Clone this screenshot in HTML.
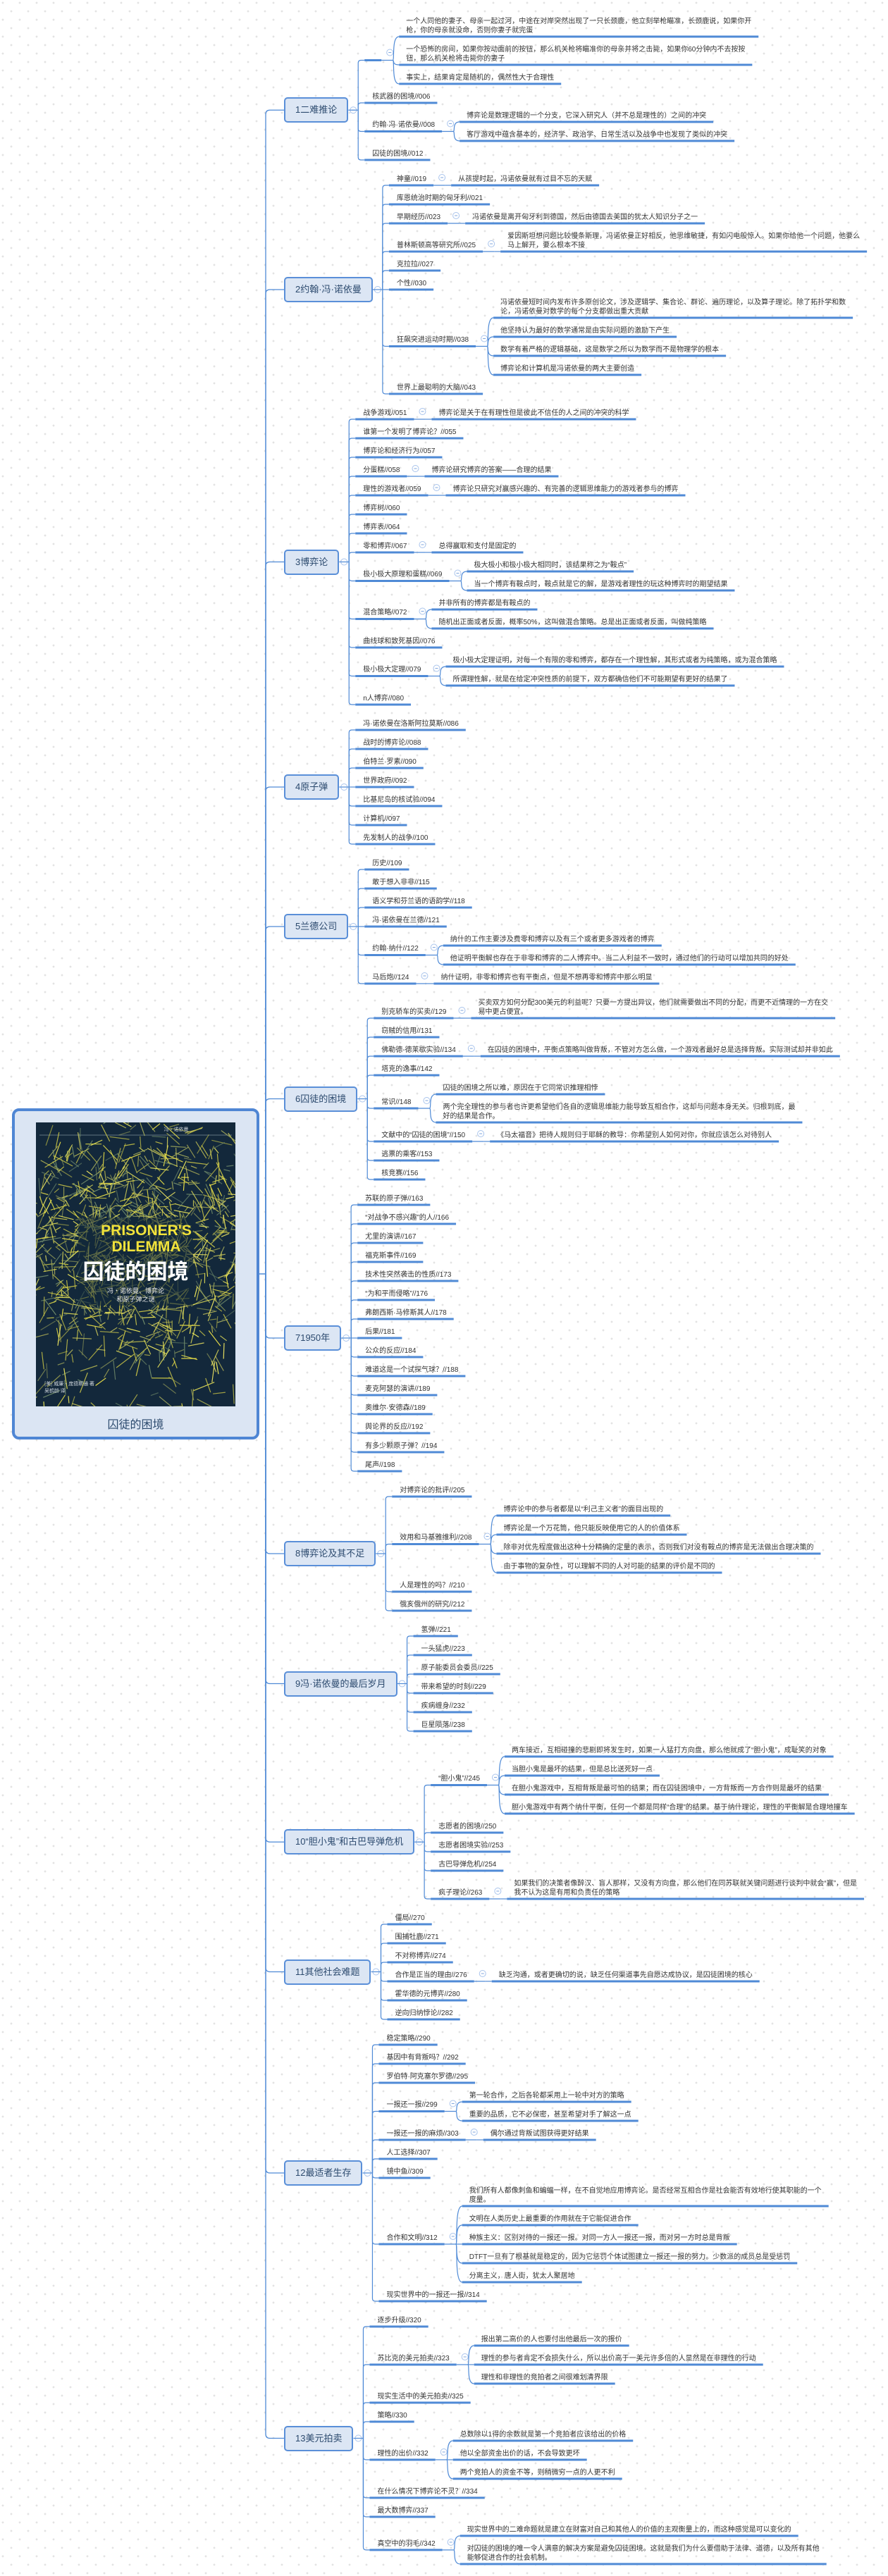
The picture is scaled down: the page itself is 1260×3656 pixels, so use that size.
<!DOCTYPE html>
<html><head><meta charset="utf-8">
<style>
html,body{margin:0;padding:0;}
body{width:1260px;height:3656px;position:relative;overflow:hidden;background:#fff;font-family:"Liberation Sans","Noto Sans CJK SC",sans-serif;}
.t{position:absolute;font-size:10px;line-height:13px;color:#333;white-space:nowrap;}
.tp{position:absolute;box-sizing:border-box;height:36px;border:2px solid #5a8fd8;border-radius:5px;background:#dce6f4;color:#2c4a6e;font-size:13px;line-height:32px;text-align:center;white-space:nowrap;}
#root{position:absolute;left:17px;top:1573px;width:351px;height:470px;box-sizing:border-box;border:4px solid #4f86d4;border-radius:10px;background:#dbe5f3;}
#rtitle{position:absolute;left:17px;width:351px;top:2008px;text-align:center;font-size:16px;color:#2c4a6e;}
</style></head>
<body>
<svg id="bg" width="1260" height="3656" style="position:absolute;left:0;top:0">
<defs><pattern id="pl" width="24" height="24" patternUnits="userSpaceOnUse">
<path d="M2.5 4H5.5M4 2.5V5.5M14.5 16H17.5M16 14.5V17.5" stroke="#dadada" stroke-width="1"/>
</pattern></defs>
<rect width="1260" height="3656" fill="url(#pl)"/>
</svg>
<div id="root"></div>
<svg id="cv" width="1260" height="3656" style="position:absolute;left:0;top:0"></svg>
<div id="rtitle">囚徒的困境</div>
<div id="tx"></div>
<script>
var F='"Liberation Sans","Noto Sans CJK SC",sans-serif';
var cnv=document.createElement('canvas').getContext('2d');
function mw(s,sz){cnv.font=sz+'px '+F;return cnv.measureText(s).width;}
function N(l,k){return {l:l,k:k||[]};}
function Ls(arr){return arr.map(function(s){return N(s);});}
var data=[
N('1二难推论',[N('',Ls(['一个人同他的妻子、母亲一起过河，中途在对岸突然出现了一只长颈鹿，他立刻举枪瞄准，长颈鹿说，如果你开\n枪，你的母亲就没命，否则你妻子就完蛋','一个恐怖的房间，如果你按动面前的按钮，那么机关枪将瞄准你的母亲并将之击毙，如果你60分钟内不去按按\n钮，那么机关枪将击毙你的妻子','事实上，结果肯定是随机的，偶然性大于合理性'])),N('核武器的困境//006'),N('约翰·冯·诺依曼//008',Ls(['博弈论是数理逻辑的一个分支，它深入研究人（并不总是理性的）之间的冲突','客厅游戏中蕴含基本的，经济学、政治学、日常生活以及战争中也发现了类似的冲突'])),N('囚徒的困境//012')]),
N('2约翰·冯·诺依曼',[N('神童//019',Ls(['从孩提时起，冯诺依曼就有过目不忘的天赋'])),N('库恩统治时期的匈牙利//021'),N('早期经历//023',Ls(['冯诺依曼是离开匈牙利到德国，然后由德国去美国的犹太人知识分子之一'])),N('普林斯顿高等研究所//025',Ls(['爱因斯坦想问题比较慢条斯理，冯诺依曼正好相反，他思维敏捷，有如闪电般惊人。如果你给他一个问题，他要么\n马上解开，要么根本不接'])),N('克拉拉//027'),N('个性//030'),N('狂飙突进运动时期//038',Ls(['冯诺依曼短时间内发布许多原创论文，涉及逻辑学、集合论、群论、遍历理论，以及算子理论。除了拓扑学和数\n论，冯诺依曼对数学的每个分支都做出重大贡献','他坚持认为最好的数学通常是由实际问题的激励下产生','数学有着严格的逻辑基础，这是数学之所以为数学而不是物理学的根本','博弈论和计算机是冯诺依曼的两大主要创造'])),N('世界上最聪明的大脑//043')]),
N('3博弈论',[N('战争游戏//051',Ls(['博弈论是关于在有理性但是彼此不信任的人之间的冲突的科学'])),N('谁第一个发明了博弈论？//055'),N('博弈论和经济行为//057'),N('分蛋糕//058',Ls(['博弈论研究博弈的答案——合理的结果'])),N('理性的游戏者//059',Ls(['博弈论只研究对赢感兴趣的、有完善的逻辑思维能力的游戏者参与的博弈'])),N('博弈树//060'),N('博弈表//064'),N('零和博弈//067',Ls(['总得赢取和支付是固定的'])),N('极小极大原理和蛋糕//069',Ls(['极大极小和极小极大相同时，该结果称之为“鞍点”','当一个博弈有鞍点时，鞍点就是它的解，是游戏者理性的玩这种博弈时的期望结果'])),N('混合策略//072',Ls(['并非所有的博弈都是有鞍点的','随机出正面或者反面，概率50%，这叫做混合策略。总是出正面或者反面，叫做纯策略'])),N('曲线球和致死基因//076'),N('极小极大定理//079',Ls(['极小极大定理证明，对每一个有限的零和博弈，都存在一个理性解，其形式或者为纯策略，或为混合策略','所谓理性解，就是在给定冲突性质的前提下，双方都确信他们不可能期望有更好的结果了'])),N('n人博弈//080')]),
N('4原子弹',Ls(['冯·诺依曼在洛斯阿拉莫斯//086','战时的博弈论//088','伯特兰·罗素//090','世界政府//092','比基尼岛的核试验//094','计算机//097','先发制人的战争//100'])),
N('5兰德公司',Ls(['历史//109','敢于想入非非//115','语义学和芬兰语的语韵学//118','冯·诺依曼在兰德//121']).concat([N('约翰·纳什//122',Ls(['纳什的工作主要涉及费零和博弈以及有三个或者更多游戏者的博弈','他证明平衡解也存在于非零和博弈的二人博弈中。当二人利益不一致时，通过他们的行动可以增加共同的好处'])),N('马后炮//124',Ls(['纳什证明，非零和博弈也有平衡点，但是不想再零和博弈中那么明显']))])),
N('6囚徒的困境',[N('别克轿车的买卖//129',Ls(['买卖双方如何分配300美元的利益呢？只要一方提出异议，他们就需要做出不同的分配，而更不近情理的一方在交\n易中更占便宜。'])),N('窃贼的信用//131'),N('佛勒德-德莱歇实验//134',Ls(['在囚徒的困境中，平衡点策略叫做背叛，不管对方怎么做，一个游戏者最好总是选择背叛。实际测试却并非如此'])),N('塔克的逸事//142'),N('常识//148',Ls(['囚徒的困境之所以难，原因在于它同常识推理相悖','两个完全理性的参与者也许更希望他们各自的逻辑思维能力能导致互相合作，这却与问题本身无关。归根到底，最\n好的结果是合作。'])),N('文献中的“囚徒的困境”//150',Ls(['《马太福音》把待人规则归于耶稣的教导：你希望别人如何对你，你就应该怎么对待别人'])),N('逃票的乘客//153'),N('核竞赛//156')]),
N('71950年',Ls(['苏联的原子弹//163','“对战争不感兴趣”的人//166','尤里的演讲//167','福克斯事件//169','技术性突然袭击的性质//173','“为和平而侵略”//176','弗朗西斯·马修斯其人//178','后果//181','公众的反应//184','难道这是一个试探气球？//188','麦克阿瑟的演讲//189','奥维尔·安德森//189','舆论界的反应//192','有多少颗原子弹？//194','尾声//198'])),
N('8博弈论及其不足',[N('对博弈论的批评//205'),N('效用和马基雅维利//208',Ls(['博弈论中的参与者都是以“利己主义者”的面目出现的','博弈论是一个万花筒，他只能反映使用它的人的价值体系','除非对优先程度做出这种十分精确的定量的表示，否则我们对没有鞍点的博弈是无法做出合理决策的','由于事物的复杂性，可以理解不同的人对可能的结果的评价是不同的'])),N('人是理性的吗？//210'),N('俄亥俄州的研究//212')]),
N('9冯·诺依曼的最后岁月',Ls(['氢弹//221','一头猛虎//223','原子能委员会委员//225','带来希望的时刻//229','疾病缠身//232','巨星陨落//238'])),
N('10“胆小鬼”和古巴导弹危机',[N('“胆小鬼”//245',Ls(['两车接近，互相碰撞的悲剧即将发生时，如果一人猛打方向盘，那么他就成了“胆小鬼”，成耻笑的对象','当胆小鬼是最坏的结果，但是总比送死好一点','在胆小鬼游戏中，互相背叛是最可怕的结果；而在囚徒困境中，一方背叛而一方合作则是最坏的结果','胆小鬼游戏中有两个纳什平衡，任何一个都是同样“合理”的结果。基于纳什理论，理性的平衡解是合理地撞车'])),N('志愿者的困境//250'),N('志愿者困境实验//253'),N('古巴导弹危机//254'),N('疯子理论//263',Ls(['如果我们的决策者像醉汉、盲人那样，又没有方向盘，那么他们在同苏联就关键问题进行谈判中就会“赢”，但是\n我不认为这是有用和负责任的策略']))]),
N('11其他社会难题',[N('僵局//270'),N('围捕牡鹿//271'),N('不对称博弈//274'),N('合作是正当的理由//276',Ls(['缺乏沟通，或者更确切的说，缺乏任何渠道事先自愿达成协议，是囚徒困境的核心'])),N('霍华德的元博弈//280'),N('逆向归纳悖论//282')]),
N('12最适者生存',[N('稳定策略//290'),N('基因中有背叛吗？//292'),N('罗伯特·阿克塞尔罗德//295'),N('一报还一报//299',Ls(['第一轮合作，之后各轮都采用上一轮中对方的策略','重要的品质，它不必保密，甚至希望对手了解这一点'])),N('一报还一报的麻烦//303',Ls(['偶尔通过背叛试图获得更好结果'])),N('人工选择//307'),N('镜中鱼//309'),N('合作和文明//312',Ls(['我们所有人都像刺鱼和蝙蝠一样，在不自觉地应用博弈论。是否经常互相合作是社会能否有效地行使其职能的一个\n度量。','文明在人类历史上最重要的作用就在于它能促进合作','种族主义：区别对待的一报还一报。对同一方人一报还一报，而对另一方时总是背叛','DTFT一旦有了根基就是稳定的，因为它惩罚个体试图建立一报还一报的努力。少数派的成员总是受惩罚','分离主义，唐人街，犹太人聚居地'])),N('现实世界中的一报还一报//314')]),
N('13美元拍卖',[N('逐步升级//320'),N('苏比克的美元拍卖//323',Ls(['报出第二高价的人也要付出他最后一次的报价','理性的参与者肯定不会损失什么，所以出价高于一美元许多倍的人显然是在非理性的行动','理性和非理性的竞拍者之间很难划清界限'])),N('现实生活中的美元拍卖//325'),N('策略//330'),N('理性的出价//332',Ls(['总数除以1得的余数就是第一个竞拍者应该给出的价格','他以全部资金出价的话，不会导致更坏','两个竞拍人的资金不等，则稍微穷一点的人更不利'])),N('在什么情况下博弈论不灵？//334'),N('最大数博弈//337'),N('真空中的羽毛//342',Ls(['现实世界中的二难命题就是建立在财富对自己和其他人的价值的主观衡量上的，而这种感觉是可以变化的','对囚徒的困境的唯一令人满意的解决方案是避免囚徒困境。这就是我们为什么要借助于法律、道德，以及所有其他\n能够促进合作的社会机制。']))])
];
function lay(n,top){
  var lines=n.l.split('\n').length;
  if(!n.k.length){n.H=13*lines+14;n.u=top+n.H;return;}
  var y=top;n.k.forEach(function(c){lay(c,y);y+=c.H;});
  n.H=Math.max(y-top,13*lines+14);
  n.u=(n.k[0].u+n.k[n.k.length-1].u)/2;
}
var y=12;
data.forEach(function(t){var yy=y;t.k.forEach(function(c){lay(c,yy);yy+=c.H;});t.c=(t.k[0].u+t.k[t.k.length-1].u)/2;y=yy+9;});
var sv=[],tx=[],C='#4f8ad6';
function esc(s){return s.replace(/&/g,'&amp;').replace(/</g,'&lt;');}
function circ(x,y){sv.push('<circle cx="'+x+'" cy="'+y+'" r="4.5" fill="#fff" stroke="#a9c4ec" stroke-width="1"/><path d="M'+(x-2)+' '+y+'H'+(x+2)+'" stroke="#7fa6de" stroke-width="1"/>');}
function draw(n,xs,pad){
  var lines=n.l.split('\n');var w=0;lines.forEach(function(s){w=Math.max(w,mw(s,10));});
  var xe=(n.l==='')?xs+24:xs+pad+w+10;
  sv.push('<rect x="'+xs+'" y="'+(n.u-1.5)+'" width="'+(xe-xs)+'" height="3" fill="'+C+'"/>');
  lines.forEach(function(s,i){var ty=n.u-9-13*(lines.length-1-i)-6.5;tx.push('<div class="t" style="left:'+(xs+pad)+'px;top:'+ty+'px">'+esc(s)+'</div>');});
  if(n.k.length){
    var xv=xe+16,xc=xe+25;
    circ(xe+12,n.u-11);
    sv.push('<path d="M'+xe+' '+n.u+'H'+xv+'" stroke="'+C+'" stroke-width="1.2" fill="none"/>');
    n.k.forEach(function(c){
      var d;
      if(Math.abs(c.u-n.u)<1)d='M'+xv+' '+n.u+'H'+xc;
      else d='M'+xv+' '+n.u+'C'+(xv+3)+' '+n.u+' '+(xv-2)+' '+c.u+' '+xc+' '+c.u;
      sv.push('<path d="'+d+'" stroke="'+C+'" stroke-width="1.2" fill="none"/>');
      draw(c,xc,10);
    });
  }
}
var TX=377,TL=403,RC=1808;
sv.push('<path d="M368 '+RC+'H'+TX+'" stroke="'+C+'" stroke-width="1.5" fill="none"/>');
data.forEach(function(t){
  var w=mw(t.l,13)+32,c=t.c,r=6;
  var d=(Math.abs(c-RC)<1)?('M'+TX+' '+c+'H'+TL):('M'+TX+' '+RC+'V'+(c<RC?c+r:c-r)+'Q'+TX+' '+c+' '+(TX+r)+' '+c+'H'+TL);
  sv.push('<path d="'+d+'" stroke="'+C+'" stroke-width="1.3" fill="none"/>');
  tx.push('<div class="tp" style="left:'+TL+'px;top:'+(c-18)+'px;width:'+w+'px">'+esc(t.l)+'</div>');
  var xb=TL+w,xv=xb+14,xs=xb+23;
  circ(xb+7,c);
  sv.push('<path d="M'+xb+' '+c+'H'+xv+'" stroke="'+C+'" stroke-width="1.2" fill="none"/>');
  t.k.forEach(function(k){
    var dd,u=k.u,rr=4;
    if(Math.abs(u-c)<1)dd='M'+xv+' '+c+'H'+xs;
    else dd='M'+xv+' '+c+'V'+(u<c?u+rr:u-rr)+'Q'+xv+' '+u+' '+(xv+rr)+' '+u+'H'+xs;
    sv.push('<path d="'+dd+'" stroke="'+C+'" stroke-width="1.2" fill="none"/>');
    draw(k,xs,11);
  });
});
var cx0=51,cy0=1593,cw=283,ch=403;
var s=7;function rnd(){s=(s*16807)%2147483647;return s/2147483647;}
var cov='<defs><clipPath id="cc"><rect x="'+cx0+'" y="'+cy0+'" width="'+cw+'" height="'+ch+'"/></clipPath></defs><g clip-path="url(#cc)"><rect x="'+cx0+'" y="'+cy0+'" width="'+cw+'" height="'+ch+'" fill="#13283b"/>';
cov+='<path d="M'+(cx0+5)+' '+(cy0+18)+'H'+(cx0+cw-5)+'" stroke="#7d8c99" stroke-width="0.8"/>';
var cols=['#e6dc48','#d4cf45','#9aa25a','#f0ea5a','#6f8a6a','#c2bf4a','#e8e060'];
for(var i=0;i<1100;i++){
  var a=rnd()*Math.PI*2,rad=30+rnd()*160;
  var px=cx0+cw/2+Math.cos(a)*rad*0.95,py=cy0+160+Math.sin(a)*rad*0.9;
  if(rnd()<0.3){px=cx0+rnd()*cw;py=cy0+rnd()*ch;}
  var an=rnd()*Math.PI,len=8+rnd()*24;
  var col=cols[Math.floor(rnd()*cols.length)];
  cov+='<path d="M'+px.toFixed(1)+' '+py.toFixed(1)+'l'+(Math.cos(an)*len).toFixed(1)+' '+(Math.sin(an)*len).toFixed(1)+'" stroke="'+col+'" stroke-width="1.2" opacity="'+(0.55+rnd()*0.45).toFixed(2)+'"/>';
}
cov+='<rect x="'+(cx0+60)+'" y="'+(cy0+135)+'" width="163" height="125" fill="#13283b" opacity="0.55"/>';
cov+='<text x="'+(cx0+cw/2+40)+'" y="'+(cy0+12)+'" font-size="7" fill="#c9d0d6" font-family="\'Noto Sans CJK SC\',sans-serif">冯·诺依曼</text>';
cov+='<text x="'+(cx0+cw/2+15)+'" y="'+(cy0+160)+'" font-size="21" font-weight="bold" fill="#f2e33a" text-anchor="middle" font-family="\'Liberation Sans\',sans-serif">PRISONER\'S</text>';
cov+='<text x="'+(cx0+cw/2+15)+'" y="'+(cy0+183)+'" font-size="21" font-weight="bold" fill="#f2e33a" text-anchor="middle" font-family="\'Liberation Sans\',sans-serif">DILEMMA</text>';
cov+='<text x="'+(cx0+cw/2)+'" y="'+(cy0+222)+'" font-size="30" font-weight="bold" fill="#ffffff" text-anchor="middle" font-family="\'Noto Sans CJK SC\',sans-serif">囚徒的困境</text>';
cov+='<text x="'+(cx0+cw/2)+'" y="'+(cy0+242)+'" font-size="9" fill="#e8e8e8" text-anchor="middle" font-family="\'Noto Sans CJK SC\',sans-serif">冯·诺依曼、博弈论</text>';
cov+='<text x="'+(cx0+cw/2)+'" y="'+(cy0+254)+'" font-size="9" fill="#e8e8e8" text-anchor="middle" font-family="\'Noto Sans CJK SC\',sans-serif">和原子弹之谜</text>';
cov+='<text x="'+(cx0+12)+'" y="'+(cy0+ch-30)+'" font-size="7" fill="#cfd6dc" font-family="\'Noto Sans CJK SC\',sans-serif">[美] 威廉·庞德斯通 著</text>';
cov+='<text x="'+(cx0+12)+'" y="'+(cy0+ch-20)+'" font-size="7" fill="#cfd6dc" font-family="\'Noto Sans CJK SC\',sans-serif">吴鹤龄 译</text>';
cov+='</g>';
document.getElementById('cv').innerHTML=cov+sv.join('');
document.getElementById('tx').innerHTML=tx.join('');
</script>
</body></html>
